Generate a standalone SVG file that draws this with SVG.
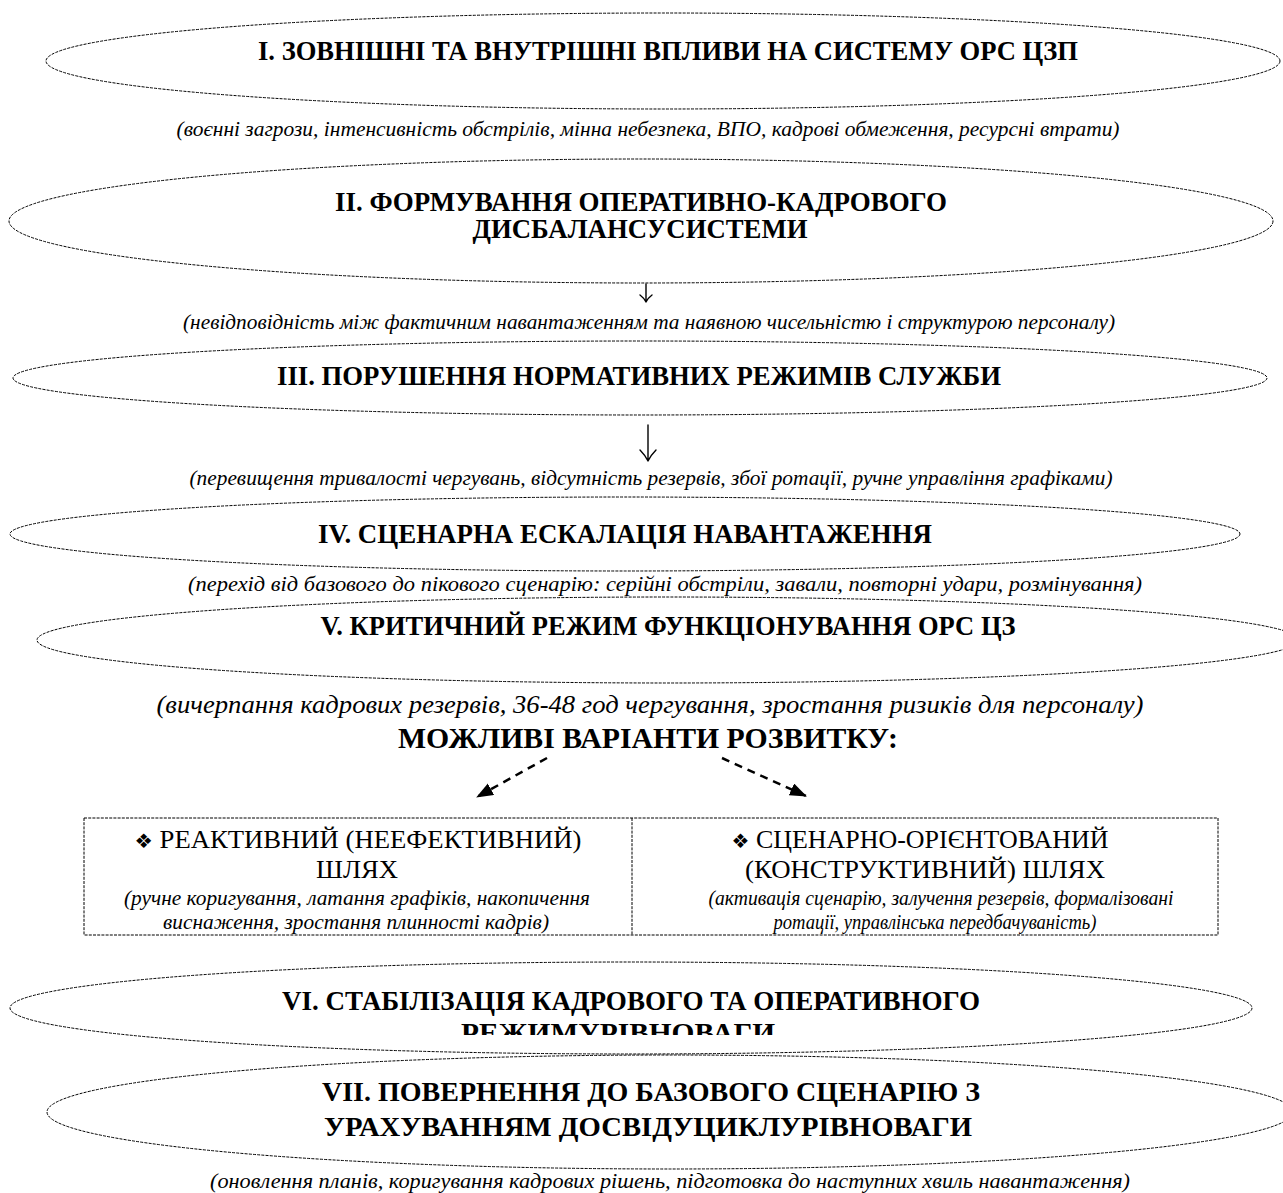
<svg xmlns="http://www.w3.org/2000/svg" width="1283" height="1193" viewBox="0 0 1283 1193">
<defs>
<style>
.bg{fill:#fff}
.ell{fill:none;stroke:#000;stroke-width:1;stroke-dasharray:3 1.2}
.box{fill:none;stroke:#000;stroke-width:1;stroke-dasharray:3 1.2}
.t{font-family:"Liberation Serif","Times New Roman",serif;font-weight:bold;fill:#000;text-anchor:middle;font-size:27px}
.s{font-family:"Liberation Serif","Times New Roman",serif;font-style:italic;fill:#000;text-anchor:middle;font-size:22px}
.r{font-family:"Liberation Serif","Times New Roman",serif;fill:#000;text-anchor:middle;font-size:26px}
.ri{font-family:"Liberation Serif","Times New Roman",serif;font-style:italic;fill:#000;text-anchor:middle;font-size:21px}
.bul{font-family:"DejaVu Sans",sans-serif;font-size:20px}
.da{stroke:#000;stroke-width:2.5;stroke-dasharray:8 6;fill:none}
.va{stroke:#000;stroke-width:1.4;fill:none;stroke-linecap:round;stroke-linejoin:round}
</style>
<marker id="ah" markerUnits="userSpaceOnUse" markerWidth="18" markerHeight="14" refX="16" refY="6.5" orient="auto" viewBox="0 0 18 14">
<path d="M0,0 L17,6.5 L0,13 Z" fill="#000"/>
</marker>
<clipPath id="c6"><rect x="0" y="960" width="1283" height="75"/></clipPath>
</defs>
<rect class="bg" x="0" y="0" width="1283" height="1193"/>

<g id="n1">
<ellipse class="ell" cx="663" cy="61" rx="617" ry="48"/>
<text class="t" x="668" y="60" textLength="820" lengthAdjust="spacingAndGlyphs">I. ЗОВНІШНІ ТА ВНУТРІШНІ ВПЛИВИ НА СИСТЕМУ ОРС ЦЗП</text>
</g>
<text id="s1" class="s" x="648" y="136" textLength="943" lengthAdjust="spacingAndGlyphs">(воєнні загрози, інтенсивність обстрілів, мінна небезпека, ВПО, кадрові обмеження, ресурсні втрати)</text>

<g id="n2">
<ellipse class="ell" cx="641" cy="221" rx="632" ry="62"/>
<text class="t" x="641" y="211" textLength="612" lengthAdjust="spacingAndGlyphs">II. ФОРМУВАННЯ ОПЕРАТИВНО-КАДРОВОГО</text>
<text class="t" x="640" y="238" textLength="335" lengthAdjust="spacingAndGlyphs">ДИСБАЛАНСУСИСТЕМИ</text>
</g>
<text id="s2" class="s" x="649" y="329" textLength="932" lengthAdjust="spacingAndGlyphs">(невідповідність між фактичним навантаженням та наявною чисельністю і структурою персоналу)</text>

<g id="n3">
<ellipse class="ell" cx="640" cy="378" rx="627" ry="37"/>
<text class="t" x="639" y="385" textLength="724" lengthAdjust="spacingAndGlyphs">III. ПОРУШЕННЯ НОРМАТИВНИХ РЕЖИМІВ СЛУЖБИ</text>
</g>
<text id="s3" class="s" x="651" y="485" textLength="923" lengthAdjust="spacingAndGlyphs">(перевищення тривалості чергувань, відсутність резервів, збої ротації, ручне управління графіками)</text>

<g id="n4">
<ellipse class="ell" cx="625" cy="534" rx="615" ry="37"/>
<text class="t" x="625" y="543" textLength="614" lengthAdjust="spacingAndGlyphs">IV. СЦЕНАРНА ЕСКАЛАЦІЯ НАВАНТАЖЕННЯ</text>
</g>
<text id="s4" class="s" x="665" y="591" textLength="954" lengthAdjust="spacingAndGlyphs">(перехід від базового до пікового сценарію: серійні обстріли, завали, повторні удари, розмінування)</text>

<g id="n5">
<ellipse class="ell" cx="668" cy="640" rx="631" ry="43"/>
<text class="t" x="668" y="635" textLength="695" lengthAdjust="spacingAndGlyphs">V. КРИТИЧНИЙ РЕЖИМ ФУНКЦІОНУВАННЯ ОРС ЦЗ</text>
</g>
<text id="s5" class="s" x="650" y="713" style="font-size:25px" textLength="987" lengthAdjust="spacingAndGlyphs">(вичерпання кадрових резервів, 36-48 год чергування, зростання ризиків для персоналу)</text>
<text id="h1" class="t" x="648" y="748" style="font-size:30px" textLength="500" lengthAdjust="spacingAndGlyphs">МОЖЛИВІ ВАРІАНТИ РОЗВИТКУ:</text>

<g id="n-box">
<rect class="box" x="84" y="818" width="1134" height="117"/>
<line class="box" x1="632" y1="818" x2="632" y2="935"/>
</g>
<g id="n-left">
<text class="r" x="358" y="848" textLength="447" lengthAdjust="spacingAndGlyphs"><tspan class="bul">❖</tspan> РЕАКТИВНИЙ (НЕЕФЕКТИВНИЙ)</text>
<text class="r" x="357" y="878" textLength="82" lengthAdjust="spacingAndGlyphs">ШЛЯХ</text>
<text class="ri" x="357" y="905" textLength="466" lengthAdjust="spacingAndGlyphs">(ручне коригування, латання графіків, накопичення</text>
<text class="ri" x="356" y="929" textLength="386" lengthAdjust="spacingAndGlyphs">виснаження, зростання плинності кадрів)</text>
</g>
<g id="n-right">
<text class="r" x="920" y="848" textLength="377" lengthAdjust="spacingAndGlyphs"><tspan class="bul">❖</tspan> СЦЕНАРНО-ОРІЄНТОВАНИЙ</text>
<text class="r" x="925" y="878" textLength="360" lengthAdjust="spacingAndGlyphs">(КОНСТРУКТИВНИЙ) ШЛЯХ</text>
<text class="ri" x="941" y="905" textLength="465" lengthAdjust="spacingAndGlyphs">(активація сценарію, залучення резервів, формалізовані</text>
<text class="ri" x="935" y="929" textLength="323" lengthAdjust="spacingAndGlyphs">ротації, управлінська передбачуваність)</text>
</g>

<g id="n6">
<ellipse class="ell" cx="631" cy="1008" rx="621" ry="46"/>
<g clip-path="url(#c6)">
<text class="t" x="631" y="1010" textLength="698" lengthAdjust="spacingAndGlyphs">VI. СТАБІЛІЗАЦІЯ КАДРОВОГО ТА ОПЕРАТИВНОГО</text>
<text class="t" x="618" y="1042" textLength="314" lengthAdjust="spacingAndGlyphs">РЕЖИМУРІВНОВАГИ</text>
</g>
</g>

<g id="n7">
<ellipse class="ell" cx="670" cy="1112" rx="623" ry="57"/>
<text class="t" x="651" y="1101" textLength="658" lengthAdjust="spacingAndGlyphs">VII. ПОВЕРНЕННЯ ДО БАЗОВОГО СЦЕНАРІЮ З</text>
<text class="t" x="648" y="1136" textLength="648" lengthAdjust="spacingAndGlyphs">УРАХУВАННЯМ ДОСВІДУЦИКЛУРІВНОВАГИ</text>
</g>
<text id="s7" class="s" x="670" y="1188" textLength="920" lengthAdjust="spacingAndGlyphs">(оновлення планів, коригування кадрових рішень, підготовка до наступних хвиль навантаження)</text>

<g id="connectors">
<path class="va" d="M646,284 L646,302 M640,295 Q644,298 646,302 Q648,298 652,295"/>
<path class="va" d="M648,425 L648,461 M640,450 Q645,455 648,461 Q651,455 656,450"/>
<line class="da" x1="547" y1="758" x2="477" y2="797" marker-end="url(#ah)"/>
<line class="da" x1="722" y1="758" x2="806" y2="796" marker-end="url(#ah)"/>
</g>
</svg>
